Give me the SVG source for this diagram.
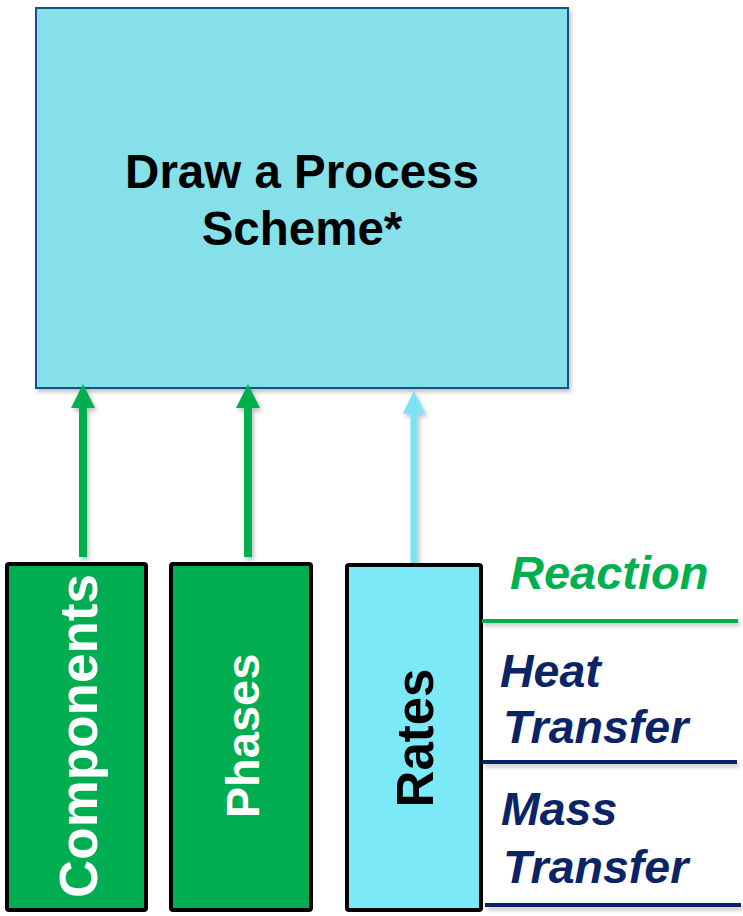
<svg xmlns="http://www.w3.org/2000/svg" width="743" height="916" viewBox="0 0 743 916">
<defs>
<filter id="sh" x="-10%" y="-10%" width="130%" height="130%">
<feDropShadow dx="2" dy="3" stdDeviation="2" flood-color="#000" flood-opacity="0.25"/>
</filter>
<filter id="shl" filterUnits="userSpaceOnUse" x="0" y="0" width="743" height="916">
<feDropShadow dx="2" dy="3" stdDeviation="2" flood-color="#000" flood-opacity="0.25"/>
</filter>
<marker id="hg" viewBox="0 0 24 24" refX="8" refY="12" markerWidth="24" markerHeight="24" markerUnits="userSpaceOnUse" orient="auto">
<path d="M0,0 L24,12 L0,24 z" fill="#00B050"/>
</marker>
<marker id="hc" viewBox="0 0 24 24" refX="8" refY="12" markerWidth="23" markerHeight="23" markerUnits="userSpaceOnUse" orient="auto">
<path d="M0,0 L24,12 L0,24 z" fill="#7DE3F4"/>
</marker>
<style>
.t{font-family:"Liberation Sans",Arial,sans-serif;font-weight:bold}
.it{font-family:"Liberation Sans",Arial,sans-serif;font-weight:bold;font-style:italic}
.gbox{fill:#00AD50;stroke:#000;stroke-width:4}
.cbox{fill:#7BE9F8;stroke:#000;stroke-width:4}
.navy{fill:#0B2466}
.navyl{stroke:#0B2466;stroke-width:4}
</style>
</defs>
<rect width="743" height="916" fill="#fff"/>

<g id="main">
<rect x="36" y="8" width="532" height="380" fill="#86E0EA" stroke="#1F4E8C" stroke-width="2" filter="url(#sh)"/>
<text class="t" x="302" y="188" font-size="47.5" text-anchor="middle" fill="#000">Draw a Process</text>
<text class="t" x="302" y="245" font-size="47.5" text-anchor="middle" fill="#000">Scheme*</text>
</g>

<g id="connectors" filter="url(#shl)">
<line x1="83" y1="557" x2="83" y2="400" stroke="#00B050" stroke-width="8" marker-end="url(#hg)"/>
<line x1="248" y1="557" x2="248" y2="400" stroke="#00B050" stroke-width="8" marker-end="url(#hg)"/>
<line x1="414" y1="563" x2="414" y2="406" stroke="#7DE3F4" stroke-width="7" marker-end="url(#hc)"/>
</g>

<g id="components">
<rect class="gbox" x="7" y="564" width="139" height="346" rx="2"/>
<text class="t" transform="translate(97,736) rotate(-90)" x="0" y="0" font-size="53" text-anchor="middle" fill="#fff">Components</text>
</g>

<g id="phases">
<rect class="gbox" x="171" y="564" width="140" height="346" rx="2"/>
<text class="t" transform="translate(259,736) rotate(-90)" x="0" y="0" font-size="47" text-anchor="middle" fill="#fff">Phases</text>
</g>

<g id="rates">
<rect class="cbox" x="347" y="565" width="134" height="345" rx="2"/>
<text class="t" transform="translate(433,738) rotate(-90)" x="0" y="0" font-size="51" text-anchor="middle" fill="#000">Rates</text>
</g>

<g id="reaction">
<line x1="482" y1="621" x2="738" y2="621" stroke="#00B050" stroke-width="4" filter="url(#shl)"/>
<text class="it" x="510" y="589" font-size="47" fill="#00B050">Reaction</text>
</g>

<g id="heat-transfer">
<line class="navyl" x1="482" y1="762" x2="737" y2="762" filter="url(#shl)"/>
<text class="it navy" x="500" y="687" font-size="46.5">Heat</text>
<text class="it navy" x="503" y="743" font-size="46.5">Transfer</text>
</g>

<g id="mass-transfer">
<line class="navyl" x1="485" y1="905" x2="741" y2="905" filter="url(#shl)"/>
<text class="it navy" x="501" y="825" font-size="46.5">Mass</text>
<text class="it navy" x="503" y="883" font-size="46.5">Transfer</text>
</g>
</svg>
